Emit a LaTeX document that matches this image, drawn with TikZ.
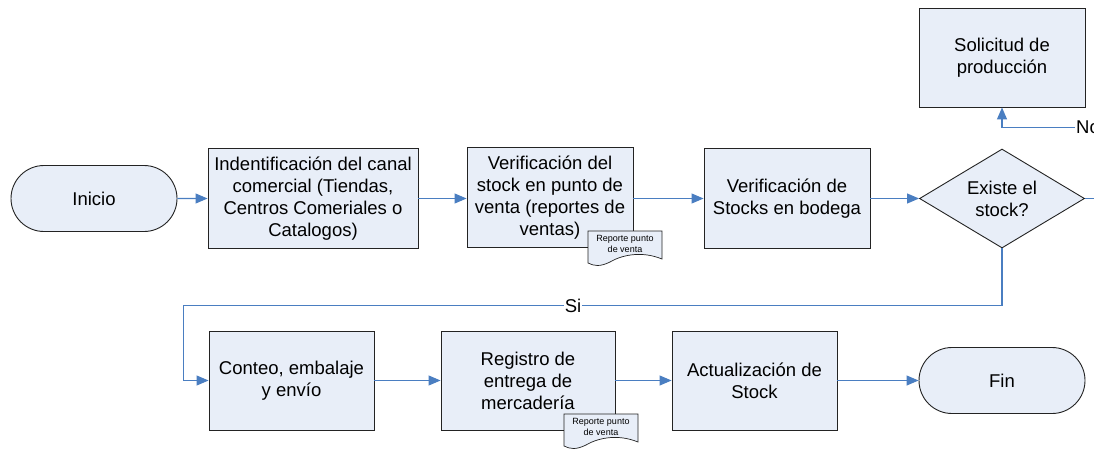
\documentclass[tikz,border=0pt]{standalone}
\usepackage{fontspec}
\setmainfont{Liberation Sans}
\usetikzlibrary{shapes.geometric,shapes.misc,arrows.meta}
\definecolor{boxfill}{RGB}{232,238,248}
\definecolor{flowblue}{RGB}{74,126,193}
\definecolor{edge}{RGB}{35,35,35}
\tikzset{
  base/.style={draw=edge, line width=0.9pt, fill=boxfill, inner sep=0pt, align=center,
    font=\fontsize{18.5}{22}\selectfont},
  box/.style={base, rectangle},
  term/.style={base, rounded rectangle, minimum width=166pt, minimum height=66pt},
  dec/.style={base, diamond, aspect=1.67, minimum width=165pt, minimum height=99pt},
  flow/.style={draw=flowblue, line width=1.1pt, -{Triangle[length=12pt,width=10pt]}},
  doc/.style={draw=edge, line width=0.7pt, fill=boxfill},
  doctext/.style={font=\fontsize{9}{11}\selectfont, align=center, inner sep=0pt},
  lbl/.style={fill=white, inner sep=1pt, font=\fontsize{18.5}{22}\selectfont}
}
\begin{document}
\begin{tikzpicture}[x=1pt,y=-1pt]
\useasboundingbox (0,0) rectangle (1094,450);
\clip (0,0) rectangle (1094,450);
% row 1
\node[term] (inicio) at (94,198.5) {Inicio};
\node[box, minimum width=210pt, minimum height=100pt] (ident) at (313,198.5)
  {Indentificación del canal\\comercial (Tiendas,\\Centros Comeriales o\\Catalogos)};
\node[box, minimum width=166pt, minimum height=100pt] (verif) at (550,197.5)
  {Verificación del\\stock en punto de\\venta (reportes de\\ventas)};
\node[box, minimum width=166pt, minimum height=100pt] (bodega) at (787,198.5)
  {Verificación de\\Stocks en bodega};
\node[dec] (existe) at (1002,198.5) {Existe el\\stock?};
\node[box, minimum width=166pt, minimum height=99pt] (solic) at (1002,57.5)
  {Solicitud de\\producción};
% row 2
\node[box, minimum width=165pt, minimum height=99pt] (conteo) at (291.5,380.5)
  {Conteo, embalaje\\y envío};
\node[box, minimum width=174pt, minimum height=99pt] (registro) at (528,380.5)
  {Registro de\\entrega de\\mercadería};
\node[box, minimum width=165pt, minimum height=99pt] (actual) at (754.5,380.5)
  {Actualización de\\Stock};
\node[term] (fin) at (1002,380.5) {Fin};
% documents
\draw[doc] (588,231) -- (662,231) -- (662,259)
  .. controls (640,250) and (620,256) .. (610,262)
  .. controls (600,267) and (594,266) .. (588,263) -- cycle;
\node[doctext] (doc1) at (625,244) {Reporte punto\\de venta};
\draw[doc] (564,414) -- (638,414) -- (638,442)
  .. controls (616,433) and (596,439) .. (586,445)
  .. controls (576,450) and (570,449) .. (564,446) -- cycle;
\node[doctext] (doc2) at (601,427) {Reporte punto\\de venta};
% connectors row 1
\draw[flow] (inicio) -- (ident);
\draw[flow] (ident) -- (ident -| verif.west);
\draw[flow] (bodega -| verif.east) -- (bodega);
\draw[flow] (bodega) -- (existe);
% No branch
\coordinate (nout) at (1120,198.5);
\coordinate (nup) at (1120,127.5);
\draw[flow] (existe.east) -- (nout) -- (nup) -| (solic.south);
\node[lbl, anchor=west] (nolbl) at (1075,127.5) {No};
% Si branch
\coordinate (s1) at (183.5,305.5);
\draw[flow] (existe.south) |- (s1) |- (conteo.west);
\node[lbl] (silbl) at (573,305.5) {Si};
% connectors row 2
\draw[flow] (conteo) -- (registro);
\draw[flow] (registro) -- (actual);
\draw[flow] (actual) -- (fin);
\end{tikzpicture}
\end{document}
